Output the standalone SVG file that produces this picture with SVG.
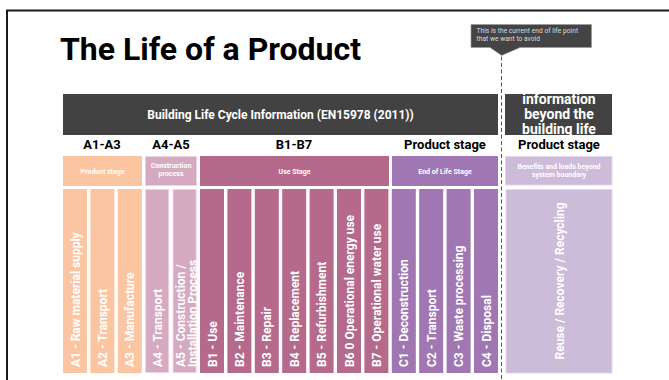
<svg xmlns="http://www.w3.org/2000/svg" width="669" height="380" viewBox="0 0 669 380">
<style>
text{font-family:Roboto,"Liberation Sans",sans-serif;}
.b{font-weight:700}
.hdr{fill:#424242}
.ht{fill:#fff;font-weight:700;font-size:12px}
.col{fill:#000;font-weight:700;font-size:13px;text-anchor:middle}
.st{fill:#fff;font-weight:700;font-size:7px;text-anchor:middle}
.ct{fill:#fff;font-weight:700;font-size:12px}
.or{fill:#FCC5A2}
.pk{fill:#D5AAC0;stroke:#E8D3DE;stroke-width:1}
.us{fill:#B56A8B}
.eo{fill:#A077B3}
.lv{fill:#CDBBDA;stroke:#E2D7EA;stroke-width:1}
</style>
<defs>
<clipPath id="rc"><rect x="505" y="94" width="107" height="41"/></clipPath>
</defs>
<rect width="669" height="380" fill="#fff"/>
<path d="M7,380 V10.5 H669" fill="none" stroke="#1a1a1a" stroke-width="2"/>
<text x="60" y="60" class="b" font-size="32" fill="#000">The Life of a Product</text>

<g id="header-main">
<rect class="hdr" x="63" y="94" width="435" height="41"/>
<text class="ht" x="280.5" y="119" text-anchor="middle">Building Life Cycle Information (EN15978 (2011))</text>
</g>
<g id="header-beyond" clip-path="url(#rc)">
<rect class="hdr" x="505" y="94" width="107" height="41"/>
<text fill="#fff" class="b" font-size="14" text-anchor="middle"><tspan x="559" y="104">information</tspan><tspan x="559" y="119">beyond the</tspan><tspan x="559" y="134">building life</tspan></text>
</g>

<g id="col-headers">
<text class="col" x="102" y="149">A1-A3</text>
<text class="col" x="171" y="149">A4-A5</text>
<text class="col" x="294" y="149">B1-B7</text>
<text class="col" x="445" y="149">Product stage</text>
<text class="col" x="559" y="149">Product stage</text>
</g>

<g id="stage-product"><rect class="or" x="63" y="156" width="79" height="30"/><text class="st" x="102.5" y="173.5">Product stage</text></g>
<g id="stage-construction"><rect class="pk" x="145.5" y="156.5" width="51" height="29"/><text class="st"><tspan x="171" y="168">Construction</tspan><tspan x="171" y="176">process</tspan></text></g>
<g id="stage-use"><rect class="us" x="200" y="156" width="189" height="30"/><text class="st" x="294.5" y="173.5">Use Stage</text></g>
<g id="stage-eol"><rect class="eo" x="392" y="156" width="106" height="30"/><text class="st" x="445" y="173.5">End of Life Stage</text></g>
<g id="stage-beyond"><rect class="lv" x="505.5" y="156.5" width="106.5" height="28.5"/><text class="st"><tspan x="559" y="168.5">Benefits and loads beyond</tspan><tspan x="559" y="176.5">system boundary</tspan></text></g>

<g id="A1"><rect class="or" x="63" y="189" width="24" height="184"/><text class="ct" transform="translate(79.5,367) rotate(-90)">A1 - Raw material supply</text></g>
<g id="A2"><rect class="or" x="90.4" y="189" width="24" height="184"/><text class="ct" transform="translate(106.9,367) rotate(-90)">A2 - Transport</text></g>
<g id="A3"><rect class="or" x="117.8" y="189" width="24" height="184"/><text class="ct" transform="translate(134.3,367) rotate(-90)">A3 - Manufacture</text></g>
<g id="A4"><rect class="pk" x="145.7" y="189.5" width="23" height="183"/><text class="ct" transform="translate(161.7,367) rotate(-90)">A4 - Transport</text></g>
<g id="A5"><rect class="pk" x="173.1" y="189.5" width="23" height="183"/><text class="ct" transform="translate(184.5,367) rotate(-90)">A5 - Construction /</text><text class="ct" transform="translate(197,367) rotate(-90)">Installation Process</text></g>
<g id="B1"><rect class="us" x="200" y="189" width="24" height="184"/><text class="ct" transform="translate(216.5,367) rotate(-90)">B1 - Use</text></g>
<g id="B2"><rect class="us" x="227.4" y="189" width="24" height="184"/><text class="ct" transform="translate(243.9,367) rotate(-90)">B2 - Maintenance</text></g>
<g id="B3"><rect class="us" x="254.8" y="189" width="24" height="184"/><text class="ct" transform="translate(271.3,367) rotate(-90)">B3 - Repair</text></g>
<g id="B4"><rect class="us" x="282.2" y="189" width="24" height="184"/><text class="ct" transform="translate(298.7,367) rotate(-90)">B4 - Replacement</text></g>
<g id="B5"><rect class="us" x="309.6" y="189" width="24" height="184"/><text class="ct" transform="translate(326.1,367) rotate(-90)">B5 - Refurbishment</text></g>
<g id="B6"><rect class="us" x="337" y="189" width="24" height="184"/><text class="ct" transform="translate(353.5,367) rotate(-90)">B6 0 Operational energy use</text></g>
<g id="B7"><rect class="us" x="364.4" y="189" width="24" height="184"/><text class="ct" transform="translate(380.9,367) rotate(-90)">B7 - Operational water use</text></g>
<g id="C1"><rect class="eo" x="391.8" y="189" width="24" height="184"/><text class="ct" transform="translate(408.3,367) rotate(-90)">C1 - Deconstruction</text></g>
<g id="C2"><rect class="eo" x="419.2" y="189" width="24" height="184"/><text class="ct" transform="translate(435.7,367) rotate(-90)">C2 - Transport</text></g>
<g id="C3"><rect class="eo" x="446.6" y="189" width="24" height="184"/><text class="ct" transform="translate(463.1,367) rotate(-90)">C3 - Waste processing</text></g>
<g id="C4"><rect class="eo" x="474" y="189" width="24" height="184"/><text class="ct" transform="translate(490.5,367) rotate(-90)">C4 - Disposal</text></g>
<g id="D"><rect class="lv" x="506" y="189.5" width="106" height="183.5"/><text class="ct" text-anchor="middle" transform="translate(563.5,281) rotate(-90)">Reuse / Recovery / Recycling</text></g>

<g id="connectors">
<line x1="501.5" y1="50" x2="501.5" y2="380" stroke="#555" stroke-width="1" stroke-dasharray="4 2.5"/>
</g>
<g id="tooltip">
<path d="M471,24.5 H591.5 V47.5 H520 L501.7,55.5 L490,47.5 H471 Z" fill="#444" stroke="#999" stroke-width="0.6"/>
<text fill="#ddd" font-size="6.6" letter-spacing="0.05"><tspan x="476.5" y="32.5">This is the current end of life point</tspan><tspan x="476.5" y="40.8">that we want to avoid</tspan></text>
</g>
</svg>
